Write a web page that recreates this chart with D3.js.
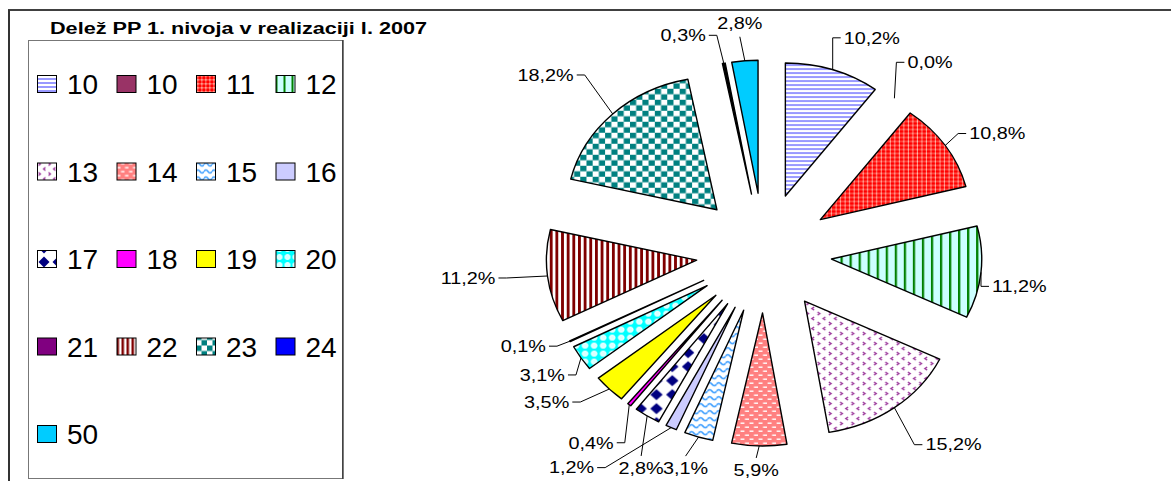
<!DOCTYPE html>
<html>
<head>
<meta charset="utf-8">
<script src="https://cdn.jsdelivr.net/npm/d3@7/dist/d3.min.js"></script>
<style>
  body { margin: 0; background: #fff; }
  svg { display: block; font-family: "Liberation Sans", Arial, sans-serif; }
</style>
</head>
<body>
<div id="chart"></div>
<script>
// chart data
const chartTitle = "Delež PP 1. nivoja v realizaciji l. 2007";
const categories = ["10", "10", "11", "12", "13", "14", "15", "16", "17", "18", "19", "20", "21", "22", "23", "24", "50"];
const shares = [10.2, 0.0, 10.8, 11.2, 15.2, 5.9, 3.1, 1.2, 2.8, 0.4, 3.5, 3.1, 0.1, 11.2, 18.2, 0.3, 2.8];

// fills for each category (patterns are defined below)
const fills = ["url(#p10)", "#993366", "url(#p11)", "url(#p12)", "url(#p13)", "url(#p14)", "url(#p15)",
    "#ccccff", "url(#p17)", "#ff00ff", "#ffff00", "url(#p20)", "#800080", "url(#p22)", "url(#p23)", "#0000ff", "#00ccff"];

// leader elbow offset from the slice edge, and which side the text sits on
const labelLayout = [
    [0, -32, "r"], [2, -36, "r"], [13, -12, "r"], [0, 14, "r"], [20, 37, "r"],
    [-3, 12, "b"], [-13, 19, "b"], [-66, 40, "l"], [-6, 40, "b"], [-4.5, 38, "l"],
    [-29, 13, "l"], [-5, 17, "l"], [-13, 5, "l"], [-41, 2, "l"], [-28, -39, "l"],
    [-7, -28, "l"], [-5, -24, "a"]
];

const width = 1171, height = 481;
const svg = d3.select("#chart").append("svg")
    .attr("width", width)
    .attr("height", height);

// patterns
const defs = svg.append("defs");
function pattern(id, w, h, bg, draw) {
    let p = defs.append("pattern")
        .attr("id", id)
        .attr("patternUnits", "userSpaceOnUse")
        .attr("width", w)
        .attr("height", h);
    p.append("rect").attr("width", w).attr("height", h).attr("fill", bg);
    draw(p);
}
pattern("p10", 4, 4, "#fff", p => {
    p.append("rect").attr("y", 0).attr("width", 4).attr("height", 2).attr("fill", "#9999ff");
});
pattern("p11", 4, 4, "#ff0000", p => {
    p.append("rect").attr("x", 0).attr("y", 1.5).attr("width", 4).attr("height", 0.8).attr("fill", "#ff9a8a");
    p.append("rect").attr("x", 1.5).attr("y", 0).attr("width", 0.8).attr("height", 4).attr("fill", "#ff9a8a");
    p.append("rect").attr("x", 1.4).attr("y", 1.4).attr("width", 1).attr("height", 1).attr("fill", "#ffe0d8");
});
pattern("p12", 8, 4, "#ccffff", p => {
    p.append("rect").attr("x", 0).attr("width", 2).attr("height", 4).attr("fill", "#008000");
});
pattern("p13", 10, 10, "#fff", p => {
    p.append("path").attr("d", "M1.5,1 L3.5,2.5 L1.5,4").attr("fill", "none").attr("stroke", "#993399").attr("stroke-width", 1.3);
    p.append("path").attr("d", "M8.5,6 L6.5,7.5 L8.5,9").attr("fill", "none").attr("stroke", "#993399").attr("stroke-width", 1.3);
});
pattern("p14", 8, 8, "#ff8080", p => {
    p.append("rect").attr("x", 0.5).attr("y", 1.5).attr("width", 3.5).attr("height", 1.4).attr("fill", "#fff");
    p.append("rect").attr("x", 4.5).attr("y", 5.5).attr("width", 3.5).attr("height", 1.4).attr("fill", "#fff");
});
pattern("p15", 8, 7, "#fff", p => {
    p.append("path").attr("d", "M0,4 Q2,1 4,4 T8,4").attr("fill", "none").attr("stroke", "#3399ff").attr("stroke-width", 1.4);
});
pattern("p17", 14, 14, "#fff", p => {
    p.append("path").attr("d", "M7,1.5 L12.5,7 L7,12.5 L1.5,7 Z").attr("fill", "#000080");
});
pattern("p20", 8, 8, "#00ffff", p => {
    p.append("circle").attr("cx", 4).attr("cy", 4).attr("r", 2.6).attr("fill", "#d8ffff").attr("stroke", "#fff").attr("stroke-width", 0.8);
});
pattern("p22", 5, 4, "#fff", p => {
    p.append("rect").attr("x", 0).attr("width", 2.5).attr("height", 4).attr("fill", "#800000");
});
pattern("p23", 11, 11, "#fff", p => {
    p.append("rect").attr("x", 0).attr("y", 0).attr("width", 5.5).attr("height", 5.5).attr("fill", "#008080");
    p.append("rect").attr("x", 5.5).attr("y", 5.5).attr("width", 5.5).attr("height", 5.5).attr("fill", "#008080");
});

// frame lines
svg.append("line").attr("x1", 8).attr("x2", width).attr("y1", 10).attr("y2", 10)
    .attr("stroke", "#000").attr("stroke-width", 1.5);
svg.append("line").attr("x1", 9).attr("x2", 9).attr("y1", 10).attr("y2", height)
    .attr("stroke", "#333").attr("stroke-width", 2);

// title
svg.append("text")
    .attr("x", 50).attr("y", 34)
    .attr("font-size", 16).attr("font-weight", "bold")
    .attr("textLength", 377).attr("lengthAdjust", "spacingAndGlyphs")
    .text(chartTitle);

// legend
let legend = svg.append("g");
legend.append("rect")
    .attr("x", 28.5).attr("y", 40.5).attr("width", 314).attr("height", 438)
    .attr("fill", "none").attr("stroke", "#777").attr("stroke-width", 1);
legend.append("line")
    .attr("x1", 343).attr("x2", 343).attr("y1", 40).attr("y2", 479)
    .attr("stroke", "#222").attr("stroke-width", 1.2);

let legendItems = legend.selectAll("g.item")
    .data(categories)
    .enter().append("g")
    .attr("class", "item")
    .attr("transform", (d, i) => `translate(${37 + (i % 4) * 79.5}, ${94 + Math.floor(i / 4) * 87.5})`);
legendItems.append("rect")
    .attr("x", 0.5).attr("y", -18.5).attr("width", 19).attr("height", 17)
    .attr("fill", (d, i) => fills[i])
    .attr("stroke", "#000").attr("stroke-width", 1);
legendItems.append("text")
    .attr("x", 30).attr("y", 0)
    .attr("font-size", 28)
    .text(d => d);

// pie
const cx = 764, cy = 253;
const sx = 1.13;        // the chart is stretched horizontally
const radius = 133;
const explode = 60;

let pie = d3.pie().sort(null).value(d => d);
let arcs = pie(shares);
let arc = d3.arc().innerRadius(0).outerRadius(radius);

let pieGroup = svg.append("g")
    .attr("transform", `translate(${cx}, ${cy}) scale(${sx}, 1)`);

pieGroup.selectAll("path")
    .data(arcs)
    .enter()
    .filter(d => d.value > 0)
    .append("path")
    .attr("transform", d => {
        let mid = (d.startAngle + d.endAngle) / 2;
        return `translate(${explode * Math.sin(mid)}, ${-explode * Math.cos(mid)})`;
    })
    .attr("d", arc)
    .attr("fill", d => d.value < 0.35 ? "#000" : fills[d.index])
    .attr("stroke", "#000")
    .attr("stroke-width", 1.4)
    .attr("stroke-linejoin", "round")
    .attr("vector-effect", "non-scaling-stroke");

// labels with leader lines
let fmt = d3.format(".1f");
let labelGroup = svg.append("g");
arcs.forEach((d, i) => {
    let mid = (d.startAngle + d.endAngle) / 2;
    let r = radius + explode;
    let px = cx + sx * r * Math.sin(mid);
    let py = cy - r * Math.cos(mid);
    let [ex, ey, side] = labelLayout[i];
    let elbowX = px + ex, elbowY = py + ey;
    let pts = [[px, py], [elbowX, elbowY]];
    let tx = elbowX, ty = elbowY, anchor = "middle";
    if (side === "r") {
        pts.push([elbowX + 8, elbowY]);
        tx = elbowX + 11; anchor = "start";
    } else if (side === "l") {
        pts.push([elbowX - 8, elbowY]);
        tx = elbowX - 11; anchor = "end";
    } else if (side === "b") {
        ty = elbowY + 12;
    } else {
        ty = elbowY - 14;
    }
    labelGroup.append("path")
        .attr("d", d3.line()(pts))
        .attr("fill", "none")
        .attr("stroke", "#000")
        .attr("stroke-width", 1);
    labelGroup.append("g")
        .attr("transform", `translate(${tx}, ${ty}) scale(1.24, 1)`)
        .append("text")
        .attr("text-anchor", anchor)
        .attr("dy", "0.36em")
        .attr("font-size", 16)
        .text(fmt(shares[i]).replace(".", ",") + "%");
});
</script>
</body>
</html>
